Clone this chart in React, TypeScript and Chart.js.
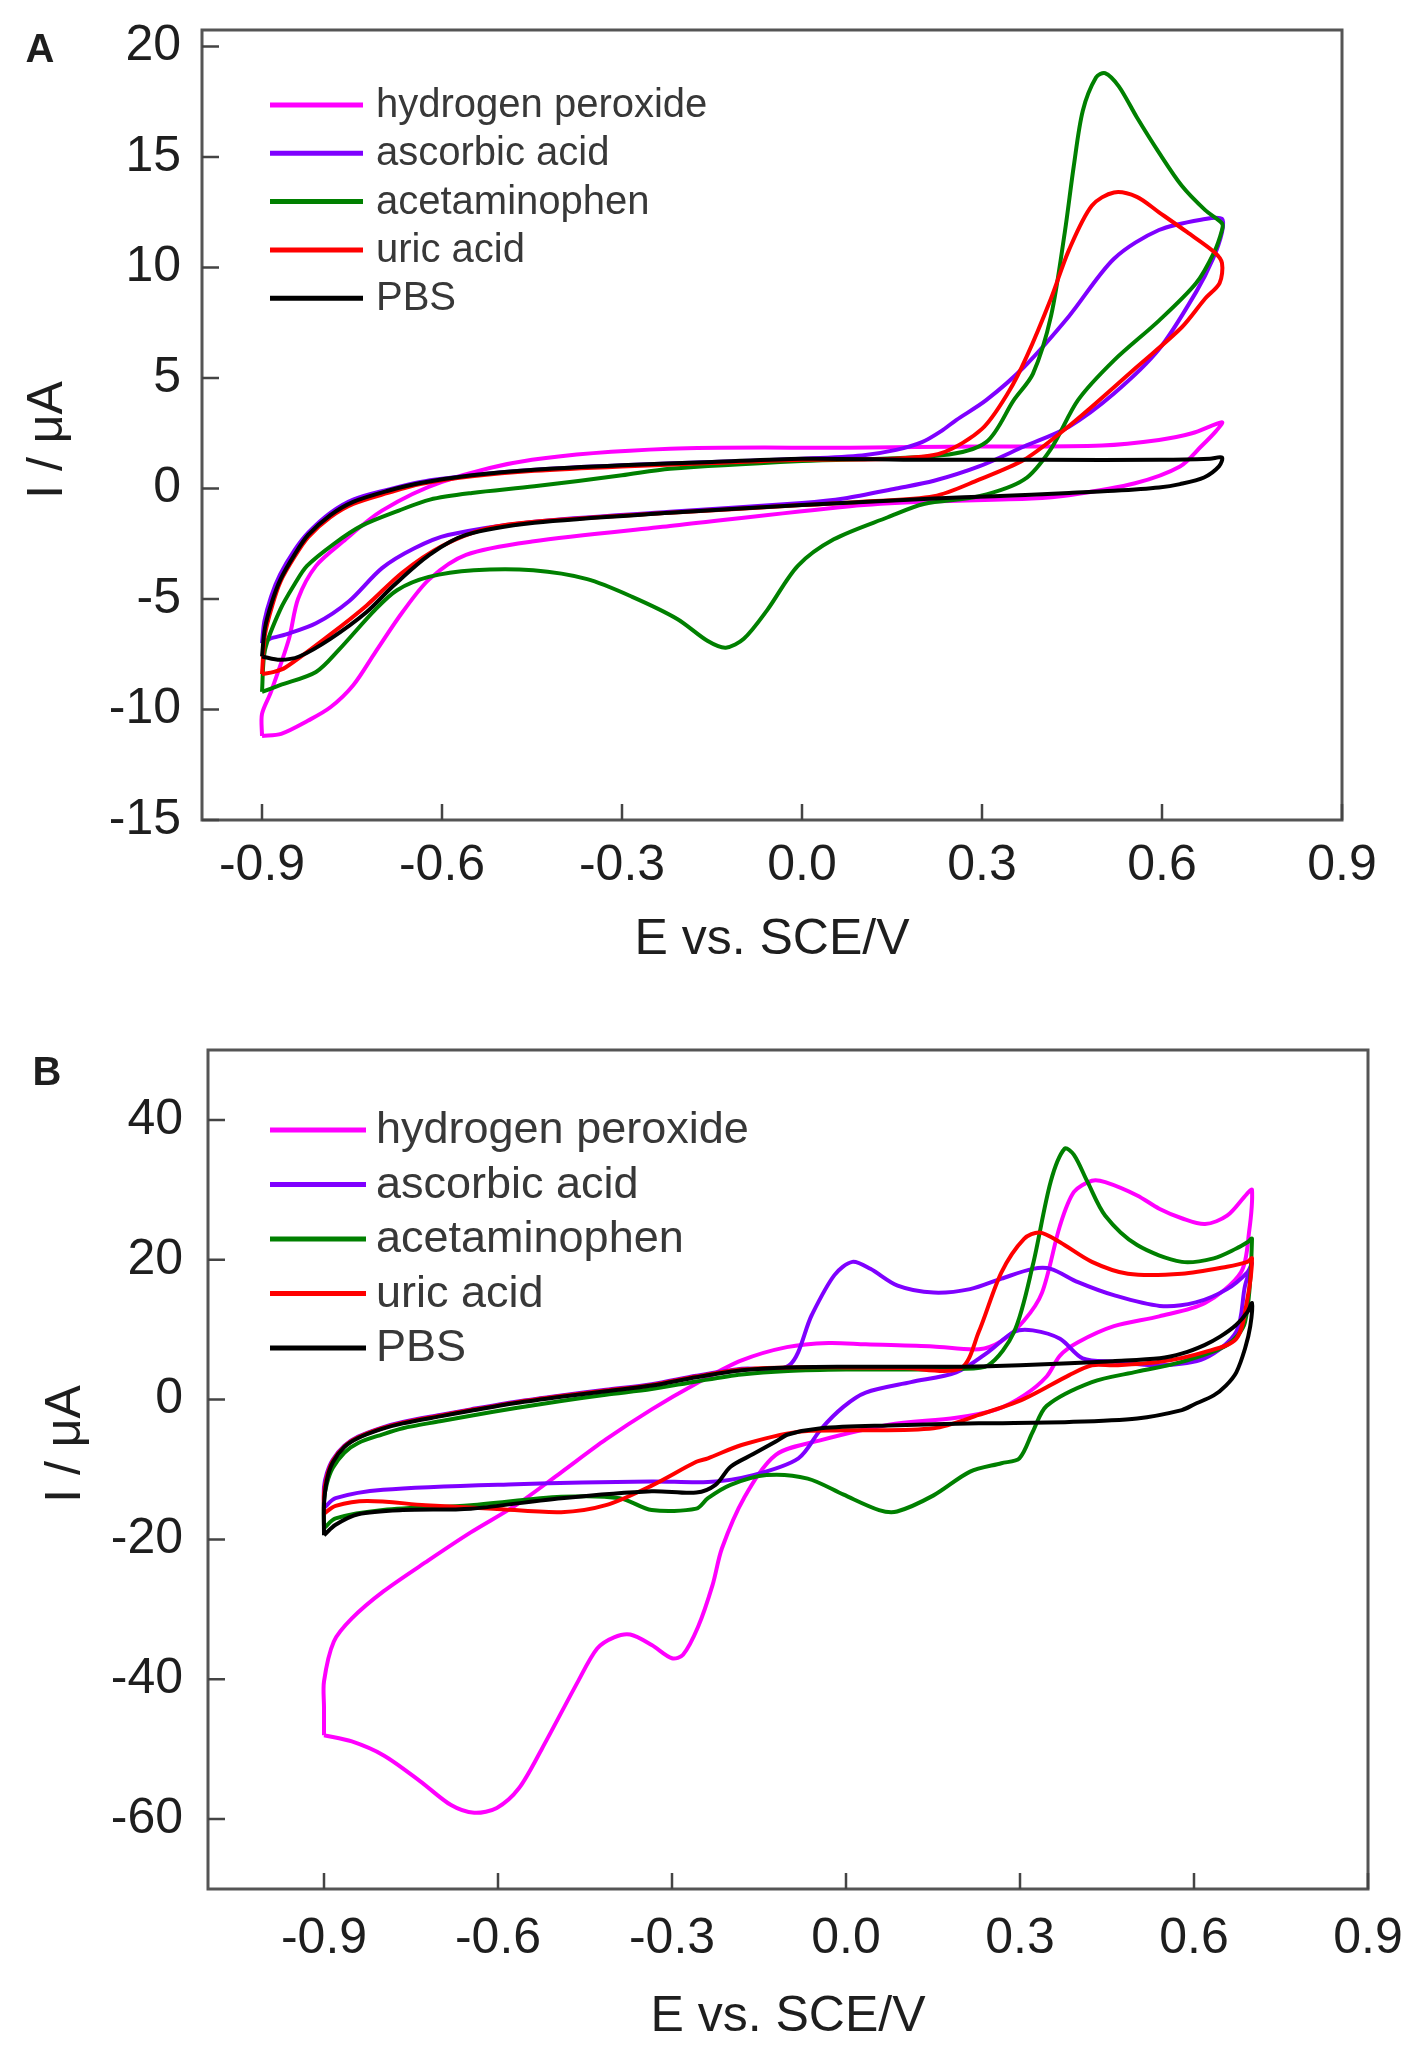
import React, { useEffect, useRef } from 'react';
import { Chart, registerables } from 'chart.js';

Chart.register(...registerables);

const FONT_FAMILY = '"Liberation Sans", Arial, Helvetica, sans-serif';

// ---------- shared labels ----------
const SERIES_NAMES = ['hydrogen peroxide', 'ascorbic acid', 'acetaminophen', 'uric acid', 'PBS'];
const SERIES_COLORS = ['#ff00ff', '#7f00ff', '#008000', '#ff0000', '#000000'];

const X_TICKS = [-0.9, -0.6, -0.3, 0, 0.3, 0.6, 0.9];
const X_TICK_LABELS = ['-0.9', '-0.6', '-0.3', '0.0', '0.3', '0.6', '0.9'];
const A_Y_TICKS = [-15, -10, -5, 0, 5, 10, 15, 20];
const A_Y_TICK_LABELS = ['-15', '-10', '-5', '0', '5', '10', '15', '20'];
const B_Y_TICKS = [-60, -40, -20, 0, 20, 40];
const B_Y_TICK_LABELS = ['-60', '-40', '-20', '0', '20', '40'];

const X_TITLE = 'E vs. SCE/V';
const Y_TITLE = 'I / \u03bcA';

// ---------- panel A data (E in V, I in µA) ----------
const A_H2O2_E = [-0.9, -0.9, -0.885, -0.855, -0.84, -0.81, -0.765, -0.7, -0.6, -0.45, -0.22, 0.08, 0.3, 0.5, 0.595, 0.65, 0.7,
  0.69, 0.665, 0.63, 0.555, 0.445, 0.383, 0.2, 0.08, -0.22, -0.45, -0.56, -0.621, -0.666, -0.711, -0.748, -0.786, -0.823, -0.868, -0.9];
const A_H2O2_I = [-11.2, -10.2, -9.2, -6.8, -5.0, -3.5, -2.4, -1.0, 0.3, 1.3, 1.8, 1.85, 1.9, 1.95, 2.2, 2.5, 3.0,
  2.6, 1.9, 1.0, 0.24, -0.3, -0.45, -0.6, -0.8, -1.7, -2.4, -3.0, -4.1, -5.6, -7.4, -8.9, -9.9, -10.5, -11.1, -11.2];

const A_AA_E = [-0.9, -0.896, -0.885, -0.87, -0.846, -0.823, -0.786, -0.748, -0.69, -0.636, -0.55, -0.446, -0.3, -0.15, 0.0, 0.1, 0.157, 0.2, 0.232, 0.257, 0.307, 0.37, 0.445, 0.52, 0.595, 0.672, 0.7,
  0.7, 0.685, 0.657, 0.595, 0.52, 0.445, 0.37, 0.295, 0.22, 0.157, 0.07, 0.0, -0.22, -0.446, -0.59, -0.646, -0.7, -0.755, -0.81, -0.86, -0.887, -0.9];
const A_AA_I = [-7.0, -6.0, -4.9, -3.9, -2.8, -2.0, -1.1, -0.5, -0.05, 0.3, 0.6, 0.85, 1.05, 1.2, 1.35, 1.5, 1.75, 2.1, 2.6, 3.1, 4.0, 5.5, 7.8, 10.4, 11.7, 12.2, 12.2,
  11.6, 10.4, 8.9, 6.3, 4.3, 2.8, 1.9, 1.0, 0.35, 0.0, -0.45, -0.65, -1.05, -1.5, -2.1, -2.7, -3.6, -5.1, -6.1, -6.6, -6.8, -7.0];

const A_AP_E = [-0.9, -0.895, -0.87, -0.845, -0.825, -0.78, -0.735, -0.672, -0.62, -0.55, -0.446, -0.3, -0.22, 0.0, 0.232, 0.307, 0.353, 0.385, 0.415, 0.438, 0.453, 0.468, 0.49, 0.505, 0.528, 0.558, 0.595, 0.633, 0.672, 0.7,
  0.7, 0.687, 0.657, 0.595, 0.52, 0.46, 0.415, 0.37, 0.295, 0.203, 0.143, 0.053, -0.007, -0.058, -0.097, -0.127, -0.157, -0.208, -0.283, -0.358, -0.448, -0.547, -0.622, -0.675, -0.712, -0.772, -0.81, -0.87, -0.9];
const A_AP_I = [-9.2, -7.3, -5.5, -4.3, -3.5, -2.5, -1.7, -1.0, -0.5, -0.2, 0.1, 0.6, 0.9, 1.25, 1.5, 2.1, 4.0, 5.2, 7.8, 11.6, 14.6, 17.1, 18.6, 18.8, 18.2, 16.8, 15.2, 13.7, 12.6, 12.0,
  11.7, 10.7, 9.3, 7.6, 5.8, 4.0, 1.8, 0.4, -0.35, -0.7, -1.3, -2.3, -3.5, -5.5, -6.8, -7.2, -6.9, -5.9, -4.9, -4.1, -3.7, -3.7, -4.0, -4.6, -5.5, -7.3, -8.3, -8.9, -9.2];

const A_UA_E = [-0.9, -0.895, -0.883, -0.869, -0.846, -0.823, -0.786, -0.748, -0.69, -0.636, -0.55, -0.446, -0.3, -0.15, 0.0, 0.15, 0.232, 0.3, 0.345, 0.375, 0.415, 0.445, 0.483, 0.52, 0.558, 0.595, 0.642, 0.687, 0.7,
  0.696, 0.672, 0.633, 0.558, 0.483, 0.43, 0.37, 0.295, 0.22, 0.1, 0.0, -0.22, -0.446, -0.524, -0.6, -0.666, -0.726, -0.786, -0.861, -0.88, -0.9];
const A_UA_I = [-8.4, -6.6, -5.3, -4.2, -3.1, -2.2, -1.3, -0.7, -0.2, 0.2, 0.55, 0.8, 1.0, 1.15, 1.3, 1.35, 1.6, 2.7, 4.4, 6.0, 8.6, 10.8, 12.8, 13.4, 13.2, 12.5, 11.6, 10.7, 10.2,
  9.3, 8.6, 7.3, 5.5, 3.7, 2.5, 1.3, 0.4, -0.35, -0.6, -0.75, -1.1, -1.5, -1.8, -2.6, -3.8, -5.3, -6.6, -8.1, -8.3, -8.4];

const A_PBS_E = [-0.9, -0.895, -0.883, -0.869, -0.846, -0.823, -0.786, -0.748, -0.69, -0.636, -0.55, -0.446, -0.3, -0.15, 0.0, 0.2, 0.4, 0.6, 0.68, 0.7,
  0.695, 0.67, 0.63, 0.595, 0.52, 0.445, 0.32, 0.22, 0.0, -0.22, -0.446, -0.56, -0.621, -0.681, -0.726, -0.786, -0.838, -0.87, -0.9];
const A_PBS_I = [-7.6, -6.3, -5.1, -4.1, -3.0, -2.1, -1.2, -0.6, -0.1, 0.25, 0.6, 0.85, 1.05, 1.2, 1.35, 1.3, 1.3, 1.3, 1.35, 1.4,
  1.0, 0.5, 0.2, 0.05, -0.1, -0.2, -0.35, -0.45, -0.75, -1.1, -1.55, -2.1, -3.0, -4.4, -5.6, -6.8, -7.6, -7.75, -7.6];

// ---------- panel B data ----------
const B_H2O2_E = [-0.9, -0.9, -0.9, -0.883, -0.852, -0.797, -0.72, -0.647, -0.569, -0.491, -0.414, -0.335, -0.258, -0.18, -0.102, -0.03, 0.034, 0.15, 0.229, 0.267, 0.307, 0.338, 0.369, 0.393, 0.424, 0.447, 0.502, 0.54, 0.58, 0.619, 0.657, 0.691, 0.7,
  0.695, 0.681, 0.619, 0.54, 0.462, 0.4, 0.369, 0.346, 0.307, 0.26, 0.19, 0.074, -0.043, -0.121, -0.176, -0.214, -0.23, -0.255, -0.281, -0.3, -0.335, -0.372, -0.4, -0.429, -0.462, -0.524, -0.564, -0.602, -0.641, -0.681, -0.734, -0.797, -0.852, -0.9];
const B_H2O2_I = [-48.0, -44.0, -40.3, -34.6, -31.3, -27.4, -23.0, -19.0, -15.1, -10.4, -5.7, -1.4, 2.3, 5.6, 7.5, 8.1, 7.9, 7.6, 7.2, 8.3, 11.3, 15.3, 24.9, 29.7, 31.3, 31.1, 29.2, 27.3, 25.9, 25.1, 26.3, 29.4, 30.0,
  24.0, 18.2, 13.8, 11.9, 10.5, 8.2, 6.3, 3.3, 0.6, -1.4, -2.6, -3.6, -5.8, -7.9, -14.1, -21.3, -26.5, -32.5, -36.5, -37.0, -35.1, -33.6, -34.0, -35.6, -40.3, -49.9, -55.6, -58.4, -59.1, -58.0, -54.6, -50.9, -48.9, -48.0];

const B_AA_E = [-0.9, -0.9, -0.895, -0.885, -0.865, -0.841, -0.8, -0.764, -0.7, -0.647, -0.569, -0.491, -0.414, -0.335, -0.258, -0.18, -0.098, -0.059, -0.02, 0.011, 0.042, 0.089, 0.151, 0.214, 0.268, 0.322, 0.353, 0.4, 0.463, 0.541, 0.603, 0.657, 0.692, 0.7,
  0.688, 0.673, 0.618, 0.541, 0.463, 0.408, 0.369, 0.322, 0.29, 0.245, 0.19, 0.112, 0.034, -0.004, -0.043, -0.082, -0.16, -0.238, -0.335, -0.569, -0.798, -0.88, -0.9];
const B_AA_I = [-15.5, -12.5, -10.5, -8.6, -6.6, -5.3, -4.0, -3.2, -2.2, -1.4, -0.3, 0.6, 1.4, 2.2, 3.4, 4.4, 4.9, 12.1, 17.8, 19.7, 18.7, 16.3, 15.3, 15.8, 17.3, 18.7, 18.7, 16.8, 14.9, 13.4, 13.9, 15.8, 18.2, 19.5,
  16.3, 9.7, 5.9, 4.9, 5.4, 5.9, 8.7, 9.9, 9.7, 6.8, 3.9, 2.5, 1.0, -1.0, -4.2, -8.4, -10.8, -11.8, -11.7, -12.1, -12.9, -14.1, -15.5];

const B_AP_E = [-0.9, -0.9, -0.895, -0.885, -0.865, -0.841, -0.8, -0.764, -0.7, -0.647, -0.569, -0.491, -0.414, -0.335, -0.258, -0.18, -0.1, 0.0, 0.1, 0.19, 0.245, 0.29, 0.322, 0.353, 0.377, 0.393, 0.416, 0.447, 0.502, 0.579, 0.634, 0.673, 0.692, 0.7,
  0.688, 0.657, 0.579, 0.502, 0.424, 0.346, 0.322, 0.299, 0.268, 0.214, 0.151, 0.088, 0.057, -0.004, -0.066, -0.137, -0.199, -0.238, -0.258, -0.335, -0.39, -0.491, -0.647, -0.798, -0.88, -0.9];
const B_AP_I = [-18.4, -14.5, -12.0, -9.8, -7.6, -6.2, -5.0, -4.1, -3.1, -2.3, -1.2, -0.2, 0.7, 1.5, 2.6, 3.6, 4.1, 4.3, 4.3, 4.4, 4.9, 9.7, 19.2, 31.2, 35.9, 35.0, 31.2, 26.3, 22.1, 19.7, 20.2, 21.6, 22.5, 23.0,
  11.1, 7.8, 5.4, 4.0, 2.5, -0.9, -4.6, -8.4, -9.1, -10.3, -13.7, -16.0, -15.8, -13.6, -11.3, -10.8, -12.2, -14.1, -15.6, -15.8, -14.1, -13.9, -15.1, -15.8, -17.0, -18.4];

const B_UA_E = [-0.9, -0.9, -0.895, -0.885, -0.865, -0.841, -0.8, -0.764, -0.7, -0.647, -0.569, -0.491, -0.414, -0.335, -0.258, -0.18, -0.1, 0.0, 0.1, 0.198, 0.229, 0.268, 0.307, 0.334, 0.369, 0.424, 0.486, 0.579, 0.657, 0.692, 0.7,
  0.692, 0.673, 0.618, 0.541, 0.463, 0.424, 0.385, 0.307, 0.229, 0.151, 0.0, -0.082, -0.18, -0.238, -0.258, -0.335, -0.414, -0.491, -0.608, -0.725, -0.826, -0.88, -0.9];
const B_UA_I = [-16.3, -13.5, -11.0, -8.8, -6.7, -5.4, -4.1, -3.3, -2.3, -1.5, -0.4, 0.5, 1.3, 2.1, 3.3, 4.3, 4.6, 4.6, 4.5, 4.5, 9.7, 18.2, 23.0, 23.9, 22.5, 19.7, 18.0, 18.0, 19.0, 19.7, 20.2,
  14.4, 8.7, 6.8, 5.4, 4.9, 4.9, 3.5, 0.1, -2.2, -4.1, -4.4, -4.6, -6.5, -8.4, -8.9, -12.3, -15.1, -16.1, -15.6, -15.1, -14.5, -15.2, -16.3];

const B_PBS_E = [-0.9, -0.9, -0.895, -0.885, -0.865, -0.841, -0.8, -0.764, -0.7, -0.647, -0.569, -0.491, -0.414, -0.335, -0.258, -0.18, -0.1, 0.0, 0.107, 0.2, 0.3, 0.385, 0.46, 0.541, 0.58, 0.618, 0.645, 0.673, 0.692, 0.7,
  0.697, 0.688, 0.673, 0.655, 0.634, 0.6, 0.579, 0.502, 0.385, 0.229, 0.073, -0.043, -0.1, -0.121, -0.16, -0.199, -0.225, -0.258, -0.335, -0.491, -0.647, -0.764, -0.841, -0.88, -0.9];
const B_PBS_I = [-19.4, -15.0, -11.5, -9.0, -6.8, -5.5, -4.2, -3.4, -2.4, -1.6, -0.5, 0.4, 1.2, 2.0, 3.2, 4.2, 4.6, 4.7, 4.7, 4.7, 4.9, 5.2, 5.5, 5.9, 6.6, 7.8, 9.0, 10.7, 12.5, 13.8,
  10.5, 7.3, 3.9, 2.0, 0.6, -0.7, -1.5, -2.7, -3.2, -3.4, -3.7, -4.1, -5.0, -6.0, -7.8, -9.6, -12.2, -13.3, -13.1, -14.1, -15.6, -15.8, -16.4, -17.9, -19.4];

const A_SERIES_E = [A_H2O2_E, A_AA_E, A_AP_E, A_UA_E, A_PBS_E];
const A_SERIES_I = [A_H2O2_I, A_AA_I, A_AP_I, A_UA_I, A_PBS_I];
const B_SERIES_E = [B_H2O2_E, B_AA_E, B_AP_E, B_UA_E, B_PBS_E];
const B_SERIES_I = [B_H2O2_I, B_AA_I, B_AP_I, B_UA_I, B_PBS_I];

// ---------- layout (pixels) ----------
type PanelCfg = {
  letter: string;
  top: number;
  height: number;
  xMin: number; xMax: number;
  yMin: number; yMax: number;
  yTicks: number[]; yTickLabels: string[];
  seriesE: number[][]; seriesI: number[][];
  pad: { top: number; right: number };
  yAxisWidth: number;
  xAxisHeight: number;
  xTickPad: number;
  yTickPad: number;
  xTitlePadBottom: number;
  yTitleX: number; yTitleY: number;
  letterX: number; letterY: number;
  legend: { x1: number; x2: number; tx: number; y0: number; gap: number; font: number };
};

const PANELS: PanelCfg[] = [
  {
    letter: 'A', top: 0, height: 1000,
    xMin: -1.0, xMax: 0.9, yMin: -15, yMax: 20.75,
    yTicks: A_Y_TICKS, yTickLabels: A_Y_TICK_LABELS,
    seriesE: A_SERIES_E, seriesI: A_SERIES_I,
    pad: { top: 30, right: 74 },
    yAxisWidth: 202, xAxisHeight: 180,
    xTickPad: 8, yTickPad: 13, xTitlePadBottom: 30,
    yTitleX: 48, yTitleY: 440,
    letterX: 40, letterY: 51,
    legend: { x1: 270, x2: 363, tx: 376, y0: 105, gap: 48.3, font: 40 },
  },
  {
    letter: 'B', top: 1000, height: 1052,
    xMin: -1.1, xMax: 0.9, yMin: -70, yMax: 50,
    yTicks: B_Y_TICKS, yTickLabels: B_Y_TICK_LABELS,
    seriesE: B_SERIES_E, seriesI: B_SERIES_I,
    pad: { top: 50, right: 48 },
    yAxisWidth: 208, xAxisHeight: 163,
    xTickPad: 12, yTickPad: 17, xTitlePadBottom: 5,
    yTitleX: 66, yTitleY: 444,
    letterX: 47, letterY: 74,
    legend: { x1: 270, x2: 366, tx: 376, y0: 130, gap: 54.5, font: 45 },
  },
];

const TEXT_COLOR = '#1e1e1e';
const LEGEND_TEXT_COLOR = '#383838';
const FRAME_COLOR = '#555555';
const TICK_MARK_COLOR = '#444444';

function labelFor(values: number[], labels: string[], v: number): string {
  const i = values.findIndex((t) => Math.abs(t - v) < 1e-9);
  return i >= 0 ? labels[i] : '';
}

function makeDecor(p: PanelCfg) {
  return {
    id: 'decor' + p.letter,
    afterDatasetsDraw(chart: any) {
      const { ctx, chartArea: a, scales } = chart;
      ctx.save();
      // frame
      ctx.strokeStyle = FRAME_COLOR;
      ctx.lineWidth = 3;
      ctx.strokeRect(a.left, a.top, a.right - a.left, a.bottom - a.top);
      // inward tick marks
      ctx.strokeStyle = TICK_MARK_COLOR;
      ctx.lineWidth = 2.5;
      ctx.beginPath();
      for (const v of X_TICKS) {
        const x = scales.x.getPixelForValue(v);
        ctx.moveTo(x, a.bottom);
        ctx.lineTo(x, a.bottom - 16);
      }
      for (const v of p.yTicks) {
        const y = scales.y.getPixelForValue(v);
        ctx.moveTo(a.left, y);
        ctx.lineTo(a.left + 17, y);
      }
      ctx.stroke();
      // legend
      const L = p.legend;
      ctx.font = `${L.font}px ${FONT_FAMILY}`;
      ctx.textAlign = 'left';
      ctx.textBaseline = 'middle';
      SERIES_NAMES.forEach((name, i) => {
        const y = L.y0 + i * L.gap;
        ctx.strokeStyle = SERIES_COLORS[i];
        ctx.lineWidth = 5;
        ctx.beginPath();
        ctx.moveTo(L.x1, y);
        ctx.lineTo(L.x2, y);
        ctx.stroke();
        ctx.fillStyle = LEGEND_TEXT_COLOR;
        ctx.fillText(name, L.tx, y + 1);
      });
      // y-axis title
      ctx.save();
      ctx.translate(p.yTitleX, p.yTitleY);
      ctx.rotate(-Math.PI / 2);
      ctx.fillStyle = TEXT_COLOR;
      ctx.font = `50px ${FONT_FAMILY}`;
      ctx.textAlign = 'center';
      ctx.textBaseline = 'middle';
      ctx.fillText(Y_TITLE, 0, 0);
      ctx.restore();
      // panel letter
      ctx.fillStyle = TEXT_COLOR;
      ctx.font = `bold 40px ${FONT_FAMILY}`;
      ctx.textAlign = 'center';
      ctx.textBaseline = 'middle';
      ctx.fillText(p.letter, p.letterX, p.letterY);
      ctx.restore();
    },
  };
}

function Panel({ p }: { p: PanelCfg }) {
  const ref = useRef<HTMLCanvasElement>(null);
  useEffect(() => {
    if (!ref.current) return;
    const datasets = p.seriesE.map((E, i) => ({
      label: SERIES_NAMES[i],
      data: E.map((e, k) => ({ x: e, y: p.seriesI[i][k] })),
      borderColor: SERIES_COLORS[i],
      backgroundColor: SERIES_COLORS[i],
      borderWidth: 4,
      showLine: true,
      pointRadius: 0,
      pointHoverRadius: 0,
      tension: 0.3,
      fill: false,
      order: SERIES_NAMES.length - 1 - i,
    }));
    const tickFont = { family: FONT_FAMILY, size: 50 };
    const chart = new Chart(ref.current, {
      type: 'scatter',
      data: { datasets },
      options: {
        animation: false,
        responsive: false,
        devicePixelRatio: 1,
        events: [],
        layout: { padding: { top: p.pad.top, right: p.pad.right, left: 0, bottom: 0 } },
        plugins: { legend: { display: false }, tooltip: { enabled: false } },
        scales: {
          x: {
            type: 'linear',
            min: p.xMin,
            max: p.xMax,
            grid: { display: false },
            border: { display: false },
            afterBuildTicks: (s: any) => { s.ticks = X_TICKS.map((v) => ({ value: v })); },
            afterFit: (s: any) => { s.height = p.xAxisHeight; s.paddingLeft = 0; s.paddingRight = 0; },
            ticks: {
              autoSkip: false,
              maxRotation: 0,
              minRotation: 0,
              padding: p.xTickPad,
              color: TEXT_COLOR,
              font: tickFont,
              callback: (v: any) => labelFor(X_TICKS, X_TICK_LABELS, Number(v)),
            },
            title: {
              display: true,
              text: X_TITLE,
              color: TEXT_COLOR,
              font: { family: FONT_FAMILY, size: 50 },
              padding: { top: 0, bottom: p.xTitlePadBottom },
            },
          },
          y: {
            type: 'linear',
            min: p.yMin,
            max: p.yMax,
            grid: { display: false },
            border: { display: false },
            afterBuildTicks: (s: any) => { s.ticks = p.yTicks.map((v) => ({ value: v })); },
            afterFit: (s: any) => { s.width = p.yAxisWidth; s.paddingTop = 0; s.paddingBottom = 0; },
            ticks: {
              autoSkip: false,
              padding: p.yTickPad,
              color: TEXT_COLOR,
              font: tickFont,
              callback: (v: any) => labelFor(p.yTicks, p.yTickLabels, Number(v)),
            },
          },
        },
      } as any,
      plugins: [makeDecor(p)],
    });
    return () => chart.destroy();
  }, [p]);
  return (
    <canvas
      ref={ref}
      width={1416}
      height={p.height}
      style={{ position: 'absolute', left: 0, top: p.top, width: 1416, height: p.height, display: 'block' }}
    />
  );
}

export default function App() {
  return (
    <div style={{ position: 'absolute', left: 0, top: 0, width: 1416, height: 2052, background: '#ffffff', overflow: 'hidden' }}>
      {PANELS.map((p) => (
        <Panel key={p.letter} p={p} />
      ))}
    </div>
  );
}
